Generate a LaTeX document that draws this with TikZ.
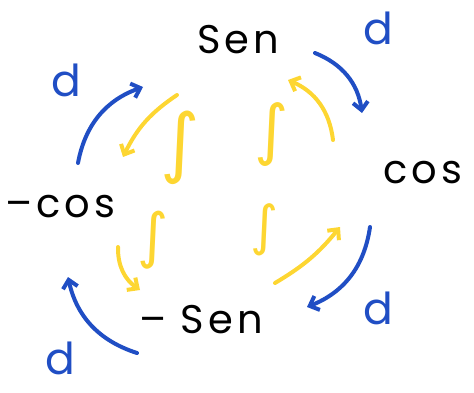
\documentclass[tikz,border=0pt]{standalone}
\usepackage{fontspec}
\setmainfont{Poppins}[LetterSpace=10]
\newfontfamily\intfont{DejaVu Sans}
\usetikzlibrary{arrows.meta}
\definecolor{inkblue}{RGB}{32,78,196}
\definecolor{inkyellow}{RGB}{253,214,50}
\begin{document}
\begin{tikzpicture}[x=1pt,y=-1pt,
  fn/.style={font=\fontsize{40}{44}\selectfont, inner sep=0pt},
  dlabel/.style={text=inkblue, font=\fontsize{44}{48}\selectfont, inner sep=0pt},
  intg/.style={text=inkyellow, font=\intfont\fontsize{#1}{#1}\selectfont, inner sep=0pt},
  intg/.default=64,
  deriv/.style={draw=inkblue, line width=4pt, line cap=round, line join=round,
    -{Straight Barb[length=8pt,width=15pt]}},
  antideriv/.style={draw=inkyellow, line width=4pt, line cap=round, line join=round,
    -{Straight Barb[length=8pt,width=15pt]}}]
\useasboundingbox (0,0) rectangle (474,393);

% the four functions of the cycle
\node[fn] (sen)  at (238,40)  {Sen};
\node[fn] (cos)  at (423,173) {cos};
\node[fn] (mcos) at (60,207)  {–cos};
\node[fn] (msen) at (201,320) {– Sen};

% derivative labels
\node[dlabel] (d1) at (378,28)  {d};
\node[dlabel] (d2) at (66,80)   {d};
\node[dlabel] (d3) at (378,308) {d};
\node[dlabel] (d4) at (60,358)  {d};

% integral labels
\node[intg=76] (i1) at (180,148) {∫};
\node[intg=66] (i2) at (272,135) {∫};
\node[intg=60] (i3) at (153,240) {∫};
\node[intg=54] (i4) at (265,230) {∫};

% end points of the derivative arrows (clockwise)
\coordinate (b1s) at (315,53);  \coordinate (b1e) at (362,113);
\coordinate (b2s) at (370,227); \coordinate (b2e) at (307,307);
\coordinate (b3s) at (137,353); \coordinate (b3e) at (68,277);
\coordinate (b4s) at (78,163);  \coordinate (b4e) at (143,87);

% end points of the integral arrows (counter-clockwise)
\coordinate (y1s) at (177,95);  \coordinate (y1e) at (123,157);
\coordinate (y2s) at (333,140); \coordinate (y2e) at (288,80);
\coordinate (y3s) at (275,283); \coordinate (y3e) at (340,227);
\coordinate (y4s) at (118,247); \coordinate (y4e) at (140,290);

\draw[deriv] (b1s) to[bend left=30] (b1e);
\draw[deriv] (b2s) to[bend left=30] (b2e);
\draw[deriv] (b3s) to[bend left=30] (b3e);
\draw[deriv] (b4s) to[bend left=30] (b4e);

\draw[antideriv] (y1s) to[bend right=15] (y1e);
\draw[antideriv] (y2s) to[bend right=30] (y2e);
\draw[antideriv] (y3s) to[bend right=10] (y3e);
\draw[antideriv] (y4s) to[bend right=28] (y4e);
\end{tikzpicture}
\end{document}
